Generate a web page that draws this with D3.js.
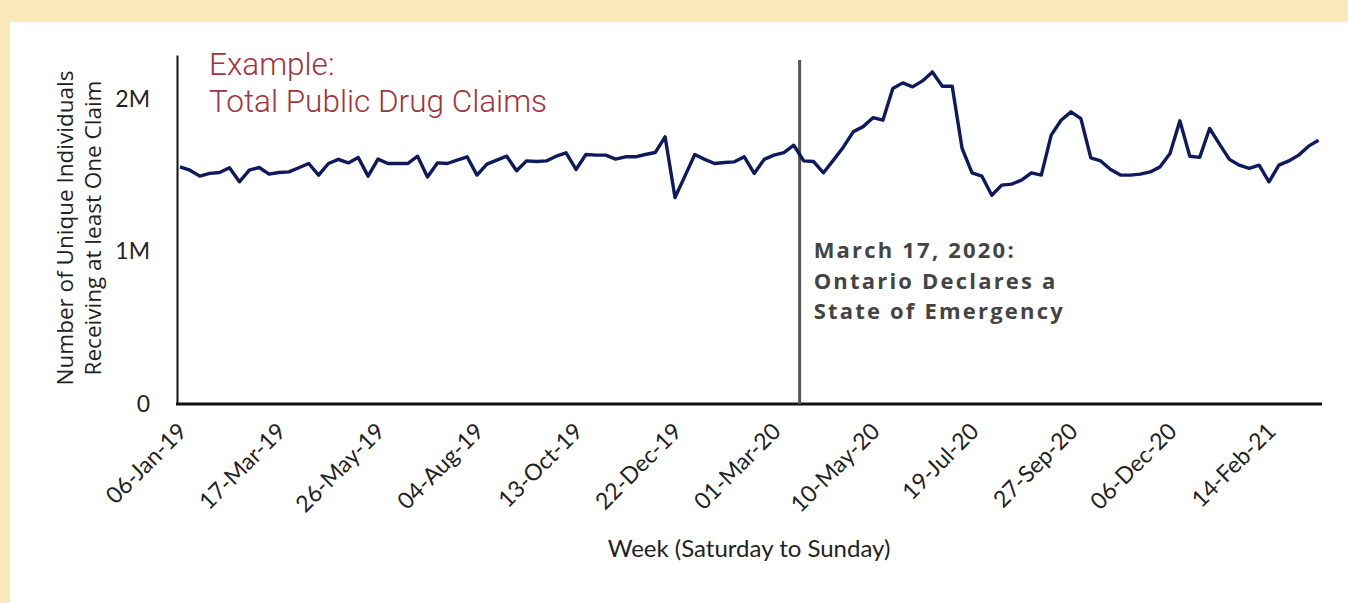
<!DOCTYPE html>
<html>
<head>
<meta charset="utf-8">
<script src="https://cdn.jsdelivr.net/npm/d3@7"></script>
<style>
  body { margin: 0; background: #f9e9bd; }
  svg { display: block; }
</style>
</head>
<body>
<div class="chart"></div>
<script>
// weekly totals, in millions of individuals, first week starts 06-Jan-19
var firstWeek = new Date(2019, 0, 6);
var claims = [
  1.556, 1.534, 1.495, 1.513, 1.519, 1.550, 1.458, 1.534, 1.552, 1.508,
  1.519, 1.523, 1.550, 1.578, 1.502, 1.578, 1.605, 1.582, 1.618, 1.495,
  1.607, 1.578, 1.578, 1.578, 1.626, 1.490, 1.582, 1.578, 1.600, 1.622,
  1.502, 1.574, 1.600, 1.626, 1.530, 1.595, 1.591, 1.595, 1.626, 1.648,
  1.539, 1.637, 1.633, 1.633, 1.607, 1.622, 1.622, 1.637, 1.650, 1.753,
  1.355, 1.495, 1.637, 1.605, 1.578, 1.585, 1.589, 1.622, 1.513, 1.605,
  1.633, 1.650, 1.698, 1.595, 1.591, 1.517, 1.600, 1.685, 1.786, 1.820,
  1.879, 1.862, 2.070, 2.107, 2.081, 2.120, 2.179, 2.085, 2.085, 1.677,
  1.517, 1.495, 1.370, 1.436, 1.443, 1.469, 1.517, 1.502, 1.764, 1.862,
  1.917, 1.873, 1.615, 1.595, 1.539, 1.502, 1.502, 1.508, 1.523, 1.556,
  1.644, 1.858, 1.626, 1.618, 1.808, 1.705, 1.605, 1.567, 1.546, 1.567,
  1.458, 1.567, 1.595, 1.633, 1.692, 1.731
];
var xTickLabels = ['06-Jan-19', '17-Mar-19', '26-May-19', '04-Aug-19', '13-Oct-19', '22-Dec-19',
  '01-Mar-20', '10-May-20', '19-Jul-20', '27-Sep-20', '06-Dec-20', '14-Feb-21'];
var yTicks = [0, 1, 2];
var emergencyDate = new Date(2020, 2, 17);
var emergencyText = ['March 17, 2020:', 'Ontario Declares a', 'State of Emergency'];
var titleText = ['Example:', 'Total Public Drug Claims'];
var yTitle = ['Number of Unique Individuals', 'Receiving at least One Claim'];

var weeks = claims.map(function (d, i) { return d3.timeWeek.offset(firstWeek, i); });
var series = claims.map(function (d, i) { return { week: weeks[i], value: d }; });

var W = 1348, H = 603;
var svg = d3.select('.chart')
  .append('svg')
    .attr('width', W)
    .attr('height', H);

// white panel on the yellow page
svg.append('rect')
  .attr('x', 10).attr('y', 22)
  .attr('width', W - 10).attr('height', H - 22)
  .style('fill', '#ffffff');

var xScale = d3.scaleTime()
  .domain([weeks[0], weeks[weeks.length - 1]])
  .range([180, 180 + 9.9 * (weeks.length - 1)]);

var yScale = d3.scaleLinear()
  .domain([0, 2.29])
  .range([404, 55]);

// y axis
var yAxis = d3.axisLeft(yScale)
  .tickValues(yTicks)
  .tickSize(0)
  .tickPadding(27)
  .tickFormat(function (d) { return d === 0 ? '0' : d + 'M'; });

var gy = svg.append('g')
  .attr('transform', 'translate(177, 0)')
  .call(yAxis);
gy.select('.domain').attr('stroke', '#111').attr('stroke-width', 2);
gy.selectAll('text')
  .style('font-family', 'Lato, sans-serif')
  .style('font-size', '23px')
  .style('fill', '#222');

// x axis
var xAxis = d3.axisBottom(xScale)
  .tickValues(xTickLabels.map(function (d, i) { return weeks[i * 10]; }))
  .tickSize(0)
  .tickFormat(function (d, i) { return xTickLabels[i]; });

var gx = svg.append('g')
  .attr('transform', 'translate(0, ' + yScale(0) + ')')
  .call(xAxis);
gx.select('.domain').remove();
gx.selectAll('text')
  .attr('text-anchor', 'end')
  .attr('dy', '0.35em')
  .attr('y', 0)
  .attr('transform', 'translate(2, 23) rotate(-45)')
  .style('font-family', 'Lato, sans-serif')
  .style('font-size', '23px')
  .style('fill', '#222');

svg.append('line')
  .attr('x1', 176).attr('x2', 1322)
  .attr('y1', yScale(0)).attr('y2', yScale(0))
  .attr('stroke', '#111')
  .attr('stroke-width', 3);

// the event line
var ex = xScale(emergencyDate) + 3;
svg.append('line')
  .attr('x1', ex).attr('x2', ex)
  .attr('y1', 60).attr('y2', yScale(0))
  .attr('stroke', '#555')
  .attr('stroke-width', 3);

// the series
var line = d3.line()
  .x(function (d) { return xScale(d.week); })
  .y(function (d) { return yScale(d.value); });

svg.append('path')
  .datum(series)
  .attr('d', line)
  .attr('fill', 'none')
  .attr('stroke', '#0f1a5e')
  .attr('stroke-width', 3.4)
  .attr('stroke-linejoin', 'round');

// red title inside the plot
svg.append('text')
  .selectAll('tspan')
  .data(titleText)
  .enter().append('tspan')
    .attr('x', 209)
    .attr('y', function (d, i) { return 75 + i * 37; })
    .text(function (d) { return d; })
    .style('font-family', 'Roboto, sans-serif')
    .style('font-weight', 300)
    .style('font-size', '31.5px')
    .style('fill', '#a2333c');

// annotation
svg.append('text')
  .selectAll('tspan')
  .data(emergencyText)
  .enter().append('tspan')
    .attr('x', ex + 14)
    .attr('y', function (d, i) { return 258 + i * 30.5; })
    .text(function (d) { return d; })
    .style('font-family', '"Open Sans", sans-serif')
    .style('font-weight', 700)
    .style('font-size', '22px')
    .style('letter-spacing', '2.2px')
    .style('fill', '#444');

// axis titles
svg.append('text')
  .attr('transform', 'translate(0, 228) rotate(-90)')
  .selectAll('tspan')
  .data(yTitle)
  .enter().append('tspan')
    .attr('x', 0)
    .attr('y', function (d, i) { return 73 + i * 28; })
    .attr('text-anchor', 'middle')
    .text(function (d) { return d; })
    .style('font-family', '"Open Sans", sans-serif')
    .style('font-size', '22.5px')
    .style('fill', '#222');

svg.append('text')
  .attr('x', 749)
  .attr('y', 557)
  .attr('text-anchor', 'middle')
  .text('Week (Saturday to Sunday)')
  .style('font-family', 'Lato, sans-serif')
  .style('font-size', '24px')
  .style('fill', '#222');
</script>
</body>
</html>
